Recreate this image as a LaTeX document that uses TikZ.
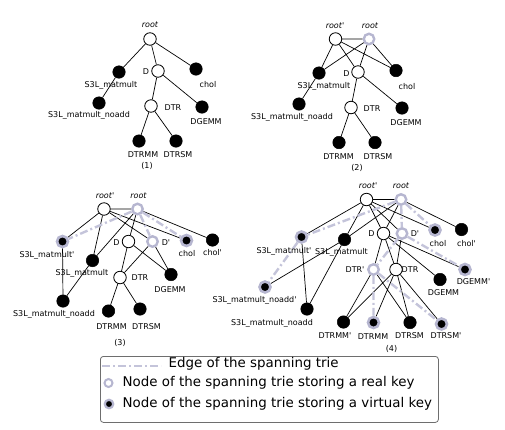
\documentclass[tikz,border=0pt]{standalone}
\usepackage{fontspec}
\setmainfont{DejaVu Sans}
\usetikzlibrary{backgrounds}
\definecolor{ringgray}{RGB}{182,182,208}
\definecolor{spangray}{RGB}{196,196,218}
\definecolor{boxgray}{RGB}{110,110,110}
\newcommand{\pq}{\textquotesingle}
\tikzset{
  wn/.style={circle,draw=black,fill=white,line width=0.8pt,minimum size=12.5pt,inner sep=0pt},
  bn/.style={circle,draw=black,fill=black,line width=0.5pt,minimum size=12.5pt,inner sep=0pt},
  rk/.style={circle,draw=ringgray,fill=white,line width=2.4pt,minimum size=10.5pt,inner sep=0pt},
  vk/.style={circle,draw=ringgray,fill=black,line width=2.6pt,minimum size=11pt,inner sep=0pt},
  lrk/.style={circle,draw=ringgray,fill=white,line width=2pt,minimum size=8pt,inner sep=0pt},
  lvk/.style={circle,draw=ringgray,fill=black,line width=2.2pt,minimum size=8.5pt,inner sep=0pt},
  lab/.style={font=\fontsize{8}{9.6}\selectfont,inner sep=0pt},
  ilab/.style={font=\fontsize{8}{9.6}\selectfont\itshape,inner sep=0pt},
  edge/.style={line width=0.7pt,black},
  span/.style={draw=spangray,line width=2.4pt,dash pattern=on 8pt off 3pt on 2pt off 3pt},
  leg/.style={font=\fontsize{13.4}{16}\selectfont,inner sep=0pt,anchor=west}
}
\begin{document}
\begin{tikzpicture}[x=1pt,y=-1pt]
\useasboundingbox (0,0) rectangle (505,429);
% ---------------- Tree 1
\node[wn] (a-root) at (150,39) {};
\node[ilab] (a-rootl) at (150,25) {root};
\node[bn] (a-s3l) at (119,72) {};
\node[lab] (a-s3ll) at (111,85) {S3L\_matmult};
\node[wn] (a-d) at (158,71) {};
\node[lab] (a-dl) at (146,72) {D};
\node[bn] (a-chol) at (196,69) {};
\node[lab] (a-choll) at (208,85) {chol};
\node[bn] (a-noadd) at (99,103) {};
\node[lab] (a-noaddl) at (89,115) {S3L\_matmult\_noadd};
\node[wn] (a-dtr) at (151,106) {};
\node[lab] (a-dtrl) at (173,108) {DTR};
\node[bn] (a-dgemm) at (202,107) {};
\node[lab] (a-dgemml) at (206,122) {DGEMM};
\node[bn] (a-dtrmm) at (139,141) {};
\node[lab] (a-dtrmml) at (143,155) {DTRMM};
\node[bn] (a-dtrsm) at (176,141) {};
\node[lab] (a-dtrsml) at (178,155) {DTRSM};
\node[lab] (a-cap) at (147,166) {(1)};
% ---------------- Tree 2
\node[wn] (b-rootp) at (335.5,39) {};
\node[ilab] (b-rootpl) at (335,26) {root\pq};
\node[rk] (b-root) at (369,39) {};
\node[ilab] (b-rootl) at (370,26) {root};
\node[bn] (b-s3l) at (319,73) {};
\node[lab] (b-s3ll) at (324,86) {S3L\_matmult};
\node[wn] (b-d) at (358,72) {};
\node[lab] (b-dl) at (346.5,74) {D};
\node[bn] (b-chol) at (396,70.5) {};
\node[lab] (b-choll) at (407,87) {chol};
\node[bn] (b-noadd) at (299,104) {};
\node[lab] (b-noaddl) at (292,117) {S3L\_matmult\_noadd};
\node[wn] (b-dtr) at (351,107.5) {};
\node[lab] (b-dtrl) at (372,109) {DTR};
\node[bn] (b-dgemm) at (402,108) {};
\node[lab] (b-dgemml) at (406,123) {DGEMM};
\node[bn] (b-dtrmm) at (339,142.5) {};
\node[lab] (b-dtrmml) at (338.5,156.5) {DTRMM};
\node[bn] (b-dtrsm) at (375,142.5) {};
\node[lab] (b-dtrsml) at (378,156.5) {DTRSM};
\node[lab] (b-cap) at (357,167.5) {(2)};
% ---------------- Tree 3
\node[wn] (c-rootp) at (104,209) {};
\node[ilab] (c-rootpl) at (105,196) {root\pq};
\node[rk] (c-root) at (137.5,209) {};
\node[ilab] (c-rootl) at (138.5,196) {root};
\node[vk] (c-s3lp) at (62.5,241.5) {};
\node[lab] (c-s3lpl) at (47,255) {S3L\_matmult\pq};
\node[bn] (c-s3l) at (92.5,260.5) {};
\node[lab] (c-s3ll) at (82,273.5) {S3L\_matmult};
\node[wn] (c-d) at (128.5,241.5) {};
\node[lab] (c-dl) at (116.5,242.5) {D};
\node[rk] (c-dp) at (152.5,241.5) {};
\node[lab] (c-dpl) at (166,242.5) {D\pq};
\node[vk] (c-chol) at (186.5,240.5) {};
\node[lab] (c-choll) at (187,254) {chol};
\node[bn] (c-cholp) at (212.5,240) {};
\node[lab] (c-cholpl) at (212.5,253) {chol\pq};
\node[wn] (c-dtr) at (120,277.5) {};
\node[lab] (c-dtrl) at (140,277.5) {DTR};
\node[bn] (c-dgemm) at (171,274.5) {};
\node[lab] (c-dgemml) at (170,289.5) {DGEMM};
\node[bn] (c-noadd) at (63,301) {};
\node[lab] (c-noaddl) at (54,314) {S3L\_matmult\_noadd};
\node[bn] (c-dtrmm) at (108.5,311) {};
\node[lab] (c-dtrmml) at (111.5,326.5) {DTRMM};
\node[bn] (c-dtrsm) at (140,309) {};
\node[lab] (c-dtrsml) at (146.5,326.5) {DTRSM};
\node[lab] (c-cap) at (120,342.5) {(3)};
% ---------------- Tree 4
\node[wn] (d-rootp) at (366.5,199.5) {};
\node[ilab] (d-rootpl) at (368,186) {root\pq};
\node[rk] (d-root) at (401,199.5) {};
\node[ilab] (d-rootl) at (401,186) {root};
\node[vk] (d-s3lp) at (301.5,237) {};
\node[lab] (d-s3lpl) at (284,251) {S3L\_matmult\pq};
\node[bn] (d-s3l) at (344.5,239.5) {};
\node[lab] (d-s3ll) at (341.5,252) {S3L\_matmult};
\node[wn] (d-d) at (383.5,233.5) {};
\node[lab] (d-dl) at (371.5,233.5) {D};
\node[rk] (d-dp) at (402,233.5) {};
\node[lab] (d-dpl) at (415,233.5) {D\pq};
\node[vk] (d-chol) at (435,230) {};
\node[lab] (d-choll) at (438,244) {chol};
\node[bn] (d-cholp) at (461.5,229.5) {};
\node[lab] (d-cholpl) at (466.5,243.5) {chol\pq};
\node[rk] (d-dtrp) at (373.5,269.5) {};
\node[lab] (d-dtrpl) at (355,270) {DTR\pq};
\node[wn] (d-dtr) at (396,269.5) {};
\node[lab] (d-dtrl) at (410,270) {DTR};
\node[vk] (d-dgemmp) at (465,269.5) {};
\node[lab] (d-dgemmpl) at (473.5,282) {DGEMM\pq};
\node[bn] (d-dgemm) at (440,279.5) {};
\node[lab] (d-dgemml) at (443.5,293) {DGEMM};
\node[vk] (d-noaddp) at (265,287) {};
\node[lab] (d-noaddpl) at (254.5,300) {S3L\_matmult\_noadd\pq};
\node[bn] (d-noadd) at (307,309) {};
\node[lab] (d-noaddl) at (272,323) {S3L\_matmult\_noadd};
\node[bn] (d-dtrmmp) at (343.5,322) {};
\node[lab] (d-dtrmmpl) at (335,336) {DTRMM\pq};
\node[vk] (d-dtrmm) at (373.5,322.5) {};
\node[lab] (d-dtrmml) at (373,336.5) {DTRMM};
\node[bn] (d-dtrsm) at (410,322.5) {};
\node[lab] (d-dtrsml) at (409.5,336) {DTRSM};
\node[vk] (d-dtrsmp) at (441.5,324) {};
\node[lab] (d-dtrsmpl) at (446,336) {DTRSM\pq};
\node[lab] (d-cap) at (391.5,348.5) {(4)};
% ---------------- Edges
\begin{scope}[on background layer]
% tree 1
\draw[edge] (a-root)--(a-s3l) (a-root)--(a-d) (a-root)--(a-chol) (a-s3l)--(a-noadd)
  (a-d)--(a-dtr) (a-d)--(a-dgemm) (a-dtr)--(a-dtrmm) (a-dtr)--(a-dtrsm);
% tree 2
\draw[edge] (b-rootp)--(b-root) (b-rootp)--(b-s3l) (b-rootp)--(b-d) (b-rootp)--(b-chol)
  (b-root)--(b-s3l) (b-root)--(b-d) (b-root)--(b-chol) (b-s3l)--(b-noadd)
  (b-d)--(b-dtr) (b-d)--(b-dgemm) (b-dtr)--(b-dtrmm) (b-dtr)--(b-dtrsm);
% tree 3
\draw[edge] (c-rootp)--(c-root) (c-rootp)--(c-s3lp) (c-rootp)--(c-s3l) (c-rootp)--(c-dp)
  (c-rootp)--(c-chol) (c-root)--(c-s3l) (c-root)--(c-d) (c-root)--(c-cholp)
  (c-s3lp)--(c-noadd) (c-s3l)--(c-noadd) (c-d)--(c-dtr) (c-d)--(c-dgemm)
  (c-dp)--(c-dtr) (c-dp)--(c-dgemm) (c-dtr)--(c-dtrmm) (c-dtr)--(c-dtrsm);
\draw[span] (c-root)--(c-s3lp) (c-root)--(c-dp) (c-root)--(c-chol);
% tree 4
\draw[edge] (d-rootp)--(d-root) (d-rootp)--(d-s3lp) (d-rootp)--(d-s3l) (d-root)--(d-s3l)
  (d-rootp)--(d-d) (d-rootp)--(d-dp) (d-rootp)--(d-chol) (d-root)--(d-d) (d-root)--(d-cholp)
  (d-s3lp)--(d-noadd) (d-s3l)--(d-noadd) (d-s3l)--(d-noaddp)
  (d-d)--(d-dtrp) (d-d)--(d-dtr) (d-d)--(d-dgemm) (d-d)--(d-dgemmp)
  (d-dp)--(d-dtr)
  (d-dtrp)--(d-dtrmmp) (d-dtrp)--(d-dtrsm)
  (d-dtr)--(d-dtrmmp) (d-dtr)--(d-dtrmm) (d-dtr)--(d-dtrsm) (d-dtr)--(d-dtrsmp);
\draw[span] (d-root)--(d-s3lp) (d-s3lp)--(d-noaddp) (d-root)--(d-dp) (d-root)--(d-chol)
  (d-dp)--(d-dtrp) (d-dp)--(d-dgemmp) (d-dtrp)--(d-dtrmm) (d-dtrp)--(d-dtrsmp);
\end{scope}
% ---------------- Legend
\node[draw=boxgray,rounded corners=3pt,line width=0.8pt,fill=white,minimum width=338pt,
  minimum height=66pt,anchor=north west,inner sep=0pt] (legbox) at (100,356) {};
\coordinate (l1a) at (102,366);
\coordinate (l1b) at (161,366);
\draw[span] (l1a)--(l1b);
\node[leg] (l1t) at (168.5,364) {Edge of the spanning trie};
\node[lrk] (l2c) at (108.5,383) {};
\node[leg] (l2t) at (122.5,382.5) {Node of the spanning trie storing a real key};
\node[lvk] (l3c) at (109,404) {};
\node[leg] (l3t) at (122.5,403.5) {Node of the spanning trie storing a virtual key};
\end{tikzpicture}
\end{document}
